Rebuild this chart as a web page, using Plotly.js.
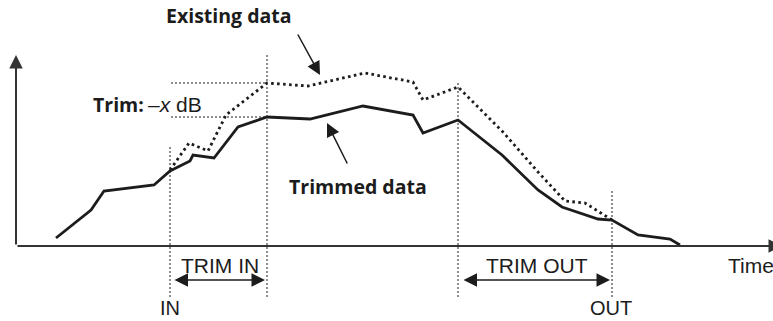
<!DOCTYPE html>
<html>
<head>
<meta charset="utf-8">
<script src="https://cdn.plot.ly/plotly-3.0.1.min.js"></script>
<style>
html,body{margin:0;padding:0;background:#fff;}
#chart{width:773px;height:321px;}
</style>
</head>
<body>
<div id="chart"></div>
<script>
// Time / level values (axis origin at 0,0)
const trimmedTime  = [40, 75, 88, 138, 154, 174, 177, 198, 222, 251, 294, 347, 397, 407, 442, 486, 522, 546, 582, 596, 622, 654, 664];
const trimmedLevel = [8, 36, 55, 61, 75, 85, 91, 88, 119, 129, 127, 140, 131, 113, 126, 91, 56, 39, 27, 26, 11, 7, 1];

const existingTime  = [154, 173, 192, 210, 251, 292, 349, 397, 407, 442, 487, 522, 549, 569, 596];
const existingLevel = [76, 103, 95, 131, 163, 160, 173, 164, 146, 159, 114, 74, 45, 43, 26];

// Edit points: IN, end of TRIM IN, start of TRIM OUT, OUT
const markerNames = ['IN', 'TRIM IN end', 'TRIM OUT start', 'OUT'];
const markerTimes = [154, 251, 442, 596];
const markerTops  = [99, 191, 164, 56];
const guideBottom = -51;
const spanLevel = -34;

const C = '#1c1c1c';
const regFont = 'Liberation Sans, Arial, Helvetica, sans-serif';
const boldFont = 'Open Sans, Noto Sans, sans-serif';

const traces = [
  {x: existingTime, y: existingLevel, mode: 'lines', name: 'Existing data',
   line: {color: C, width: 2.8, dash: '2.6px,3.4px'}, hoverinfo: 'skip'},
  {x: trimmedTime, y: trimmedLevel, mode: 'lines', name: 'Trimmed data',
   line: {color: C, width: 2.8}, hoverinfo: 'skip'}
];

const shapes = [];
for (let i = 0; i < markerTimes.length; i++) {
  shapes.push({type: 'line', xref: 'x', yref: 'y', x0: markerTimes[i], x1: markerTimes[i],
    y0: guideBottom, y1: markerTops[i], line: {color: C, width: 1, dash: '2px,2px'}});
}
// trim level guides
const hiLevel = existingLevel[existingTime.indexOf(markerTimes[1])];
const loLevel = trimmedLevel[trimmedTime.indexOf(markerTimes[1])];
[hiLevel, loLevel].forEach(lv => shapes.push({type: 'line', xref: 'x', yref: 'y',
  x0: markerTimes[0] + 1, x1: markerTimes[1], y0: lv, y1: lv,
  line: {color: C, width: 1, dash: '2px,2px'}}));

function arrow(x, y, ax, ay, opts) {
  return Object.assign({x: x, y: y, ax: ax, ay: ay, xref: 'x', yref: 'y', axref: 'x', ayref: 'y',
    text: '', showarrow: true, arrowhead: 2, arrowsize: 1, arrowwidth: 1.5, arrowcolor: C,
    standoff: 0, startstandoff: 0}, opts || {});
}
function label(x, y, text, font, size, anchor, weight, yanchor) {
  return {x: x, y: y, xref: 'x', yref: 'y', text: text, showarrow: false,
    xanchor: anchor || 'center', yanchor: yanchor || 'middle',
    font: {family: font, size: size, color: C, weight: weight || 400}};
}

const annotations = [
  // axes
  arrow(0, 191, 0, 0, {arrowwidth: 2, arrowsize: 1.35, arrowcolor: '#333'}),
  arrow(766, 0, 0, 0, {arrowwidth: 2, arrowsize: 1.35, arrowcolor: '#333'}),
  // span arrows
  arrow(markerTimes[1] - 2, spanLevel, markerTimes[0] + 3, spanLevel,
        {arrowside: 'end+start', arrowsize: 1.8, startarrowhead: 2, startarrowsize: 1.8}),
  arrow(markerTimes[3] - 2, spanLevel, markerTimes[2] + 4, spanLevel,
        {arrowside: 'end+start', arrowsize: 1.8, startarrowhead: 2, startarrowsize: 1.8}),
  // callout arrows
  arrow(304, 171, 281, 213, {arrowsize: 1.8}),
  arrow(311, 123, 332, 81, {arrowsize: 1.8}),
  // labels
  label(213, 231, 'Existing data', boldFont, 19.5, 'center', 700),
  label(342, 60, 'Trimmed data', boldFont, 19.5, 'center', 700),
  label(75, 142, 'Trim:', boldFont, 19.5, 'left', 700),
  label(130, 142, '\u2013<i>x</i> dB', regFont, 21, 'left'),
  label(203.5, -19.5, 'TRIM IN', regFont, 21),
  label(153.5, -75, 'IN', regFont, 20, 'center', 400, 'bottom'),
  label(521, -19.5, 'TRIM OUT', regFont, 21),
  label(594.5, -75, 'OUT', regFont, 20, 'center', 400, 'bottom'),
  label(710, -19.5, 'Time', regFont, 21, 'left')
];

const layout = {
  width: 773, height: 321,
  margin: {l: 0, r: 0, t: 0, b: 0},
  paper_bgcolor: '#fff', plot_bgcolor: '#fff',
  showlegend: false,
  xaxis: {range: [-16, 757], visible: false, fixedrange: true},
  yaxis: {range: [-75, 246], visible: false, fixedrange: true},
  shapes: shapes,
  annotations: annotations
};

Plotly.newPlot('chart', traces, layout, {staticPlot: true, displayModeBar: false});
</script>
</body>
</html>
